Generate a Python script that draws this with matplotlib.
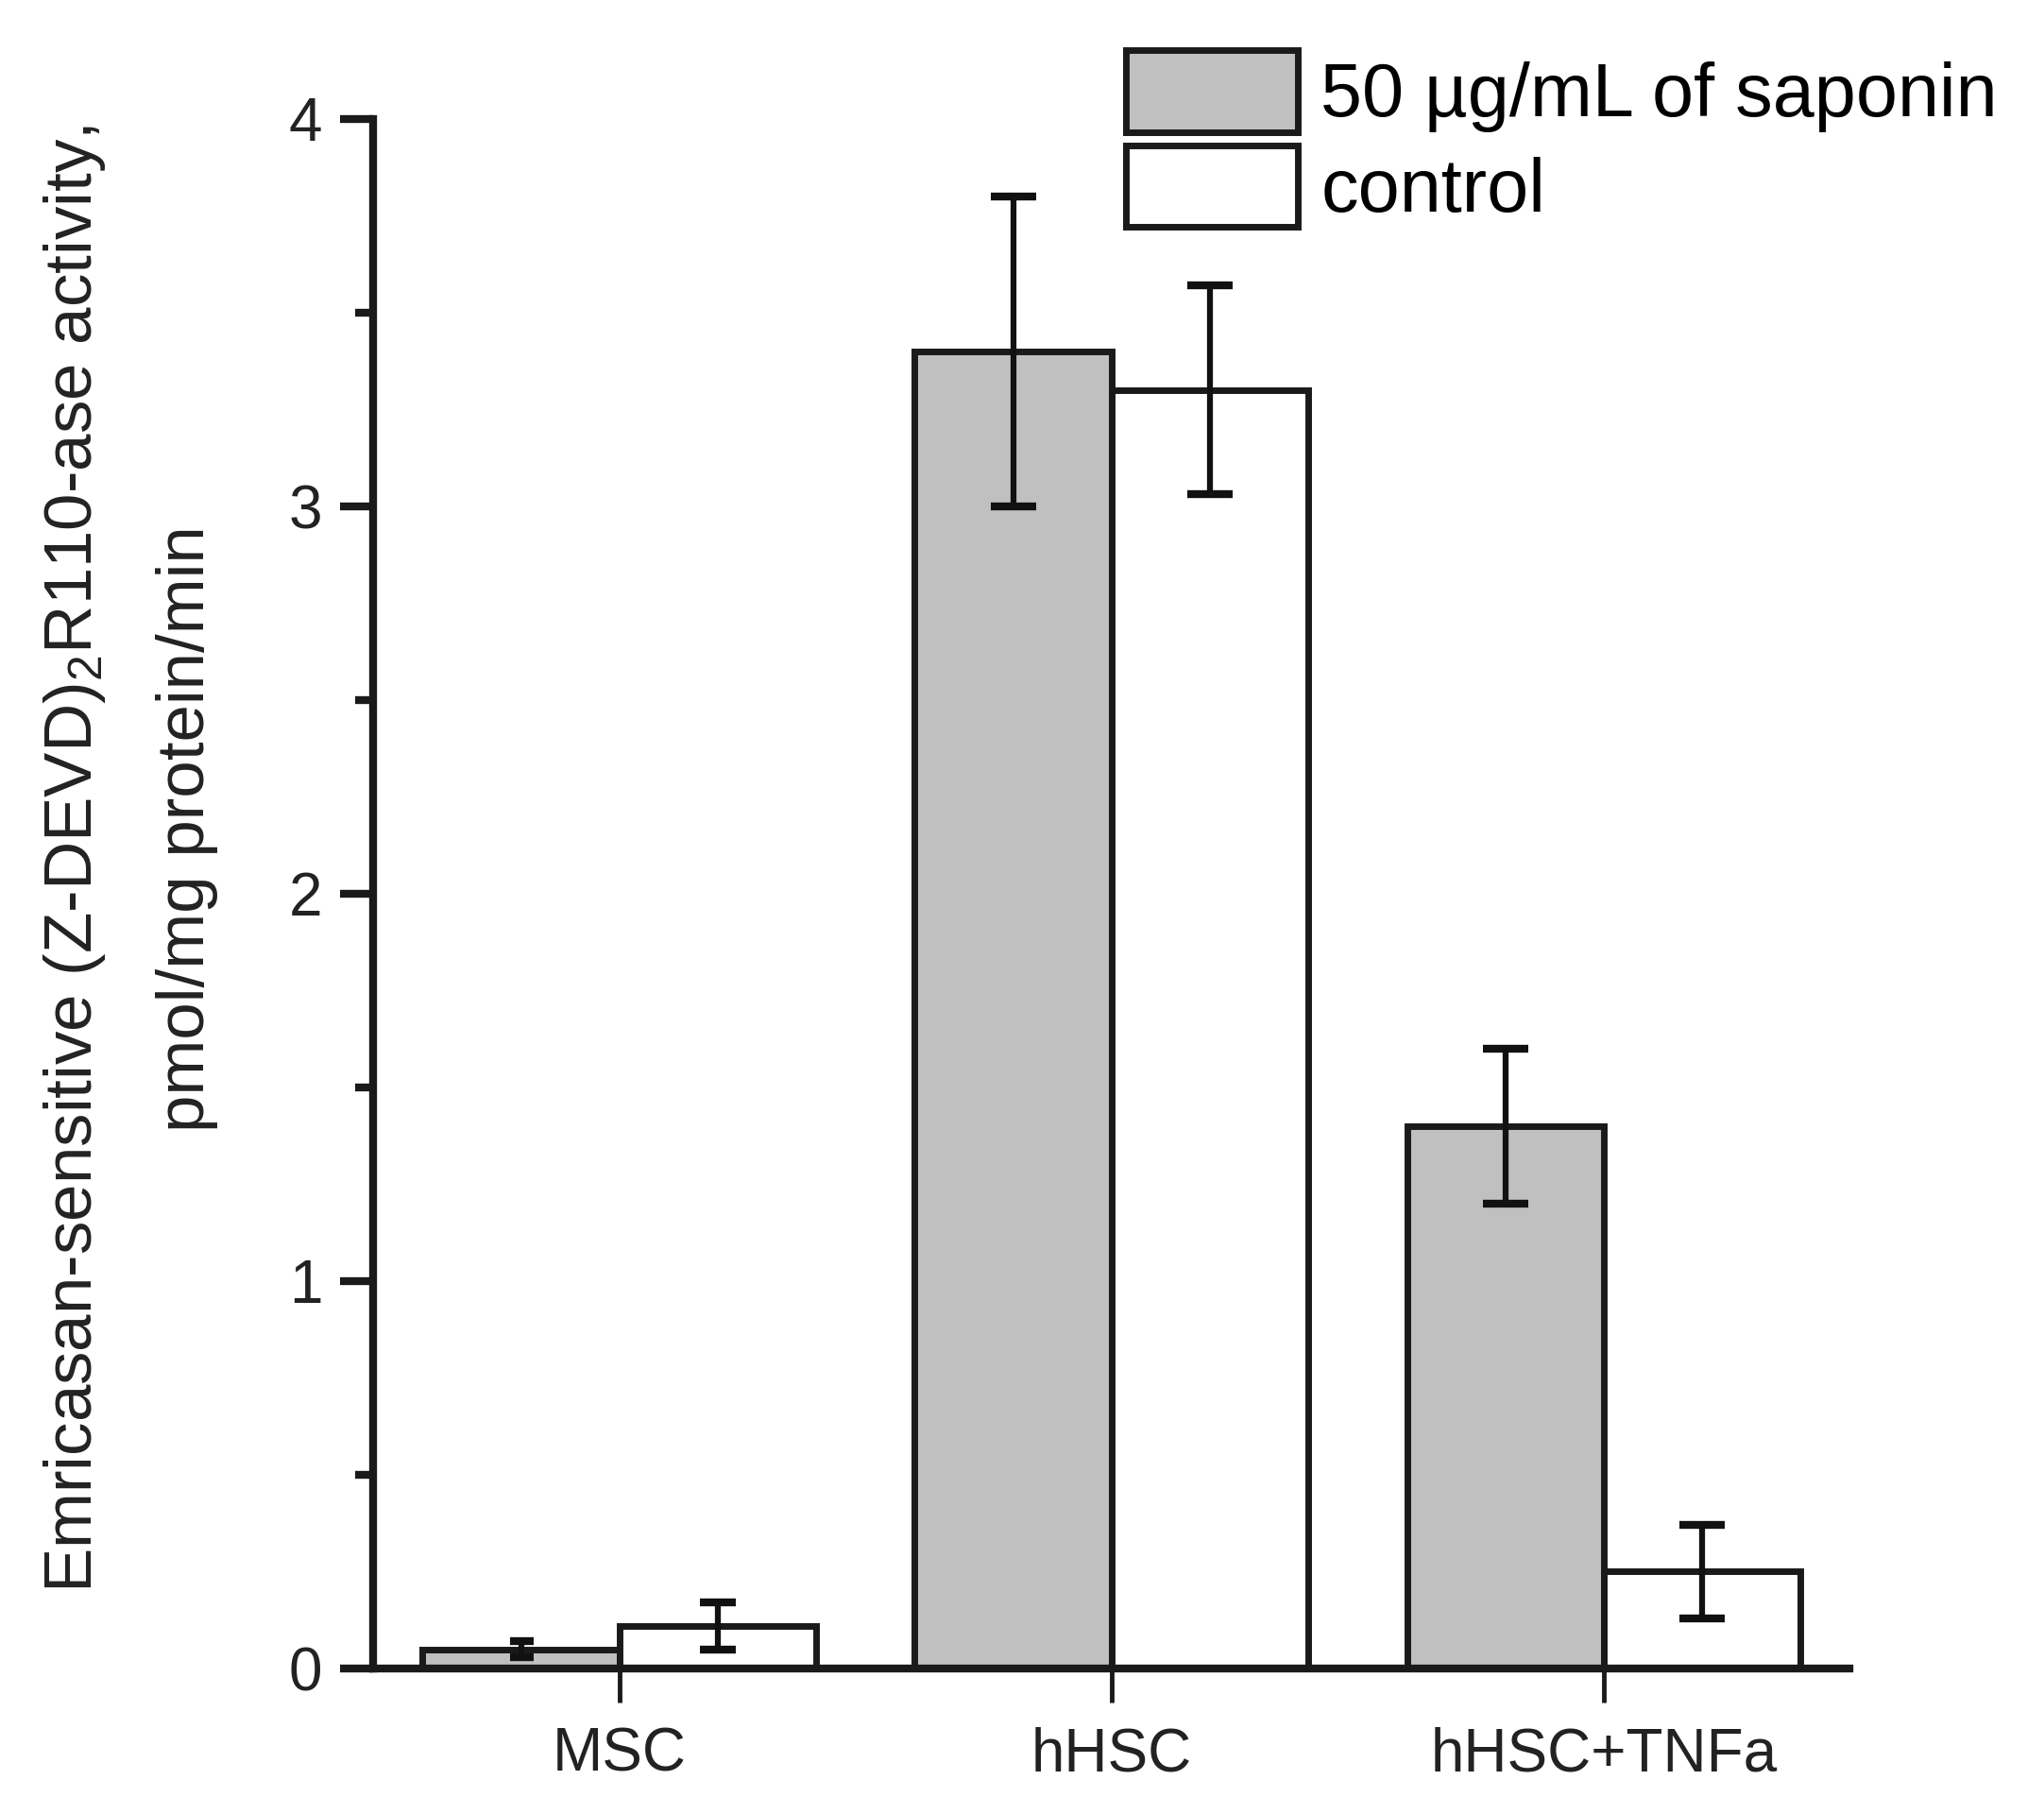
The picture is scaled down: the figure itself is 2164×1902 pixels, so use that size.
import numpy as np
import matplotlib
matplotlib.use("Agg")
import matplotlib.pyplot as plt
from matplotlib.patches import Patch

# -------------------------
# DATA
# -------------------------
groups = ["MSC", "hHSC", "hHSC+TNFa"]
saponin = [0.05, 3.40, 1.40]
saponin_err = [0.02, 0.40, 0.20]
control = [0.11, 3.30, 0.25]
control_err = [0.06, 0.27, 0.12]

series_labels = ["50 \u00b5g/mL of saponin", "control"]

# -------------------------
# STYLE
# -------------------------
plt.rcParams['font.family'] = ['Liberation Sans', 'DejaVu Sans']
plt.rcParams['mathtext.fontset'] = 'custom'
plt.rcParams['mathtext.rm'] = 'Liberation Sans'
plt.rcParams['mathtext.it'] = 'Liberation Sans'

gray = "#c0c0c0"
edge = "#1a1a1a"
bar_w = 0.4

fig = plt.figure(figsize=(21.64, 19.02), dpi=100)
ax = fig.add_axes([0.1827, 0.0715, 0.7223, 0.8625])

x = np.arange(1, len(groups) + 1)

ax.bar(x - bar_w / 2, saponin, width=bar_w, color=gray, edgecolor=edge, linewidth=5, zorder=2)
ax.bar(x + bar_w / 2, control, width=bar_w, color="white", edgecolor=edge, linewidth=5, zorder=2)

# error bars; tiny MSC one gets shorter caps like the original
for i in range(len(groups)):
    cs = 9 if saponin_err[i] < 0.05 else 17
    ax.errorbar(x[i] - bar_w / 2, saponin[i], yerr=saponin_err[i], fmt='none',
                ecolor="#111111", elinewidth=4.5, capsize=cs, capthick=6, zorder=3)
    ax.errorbar(x[i] + bar_w / 2, control[i], yerr=control_err[i], fmt='none',
                ecolor="#111111", elinewidth=4.5, capsize=14 if i == 0 else 17,
                capthick=6, zorder=3)

ax.set_xlim(0.5, 3.5)
ax.set_ylim(0, 4)

for side in ['top', 'right']:
    ax.spines[side].set_visible(False)
for side in ['left', 'bottom']:
    ax.spines[side].set_linewidth(6)
    ax.spines[side].set_color("#1a1a1a")

ax.set_yticks([0, 1, 2, 3, 4])
ax.set_yticks([0.5, 1.5, 2.5, 3.5], minor=True)
ax.set_xticks(x)
ax.set_xticklabels(groups)

ax.tick_params(axis='y', which='major', length=25, width=6, pad=14,
               labelsize=46, labelcolor="#222222", color="#1a1a1a")
ax.tick_params(axis='y', which='minor', length=14, width=6, color="#1a1a1a")
ax.tick_params(axis='x', which='major', length=26, width=3.5, pad=18,
               labelsize=46, labelcolor="#222222", color="#1a1a1a")

# y label, two lines
fig.text(0.0366, 0.522, r"Emricasan-sensitive (Z-DEVD)$_2$R110-ase activity,",
         rotation=90, ha='center', va='center', fontsize=51, color="#222222")
fig.text(0.0917, 0.539, "pmol/mg protein/min",
         rotation=90, ha='center', va='center', fontsize=51, color="#222222")

handles = [Patch(facecolor=gray, edgecolor=edge, linewidth=5),
           Patch(facecolor="white", edgecolor=edge, linewidth=5)]
fig.legend(handles, series_labels, loc='upper left', bbox_to_anchor=(0.551, 0.972),
           frameon=False, fontsize=57, handlelength=2.3, handleheight=1.3,
           handletextpad=0.3, labelspacing=0.18, borderpad=0, borderaxespad=0)

plt.savefig("out.png", dpi=100)
